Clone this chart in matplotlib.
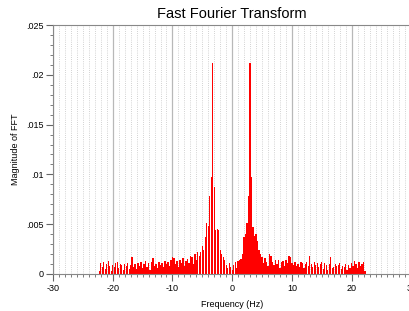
import numpy as np
import matplotlib
matplotlib.use("Agg")
import matplotlib.pyplot as plt
from matplotlib.ticker import MultipleLocator, FuncFormatter

plt.rcParams['font.family'] = ['Liberation Sans', 'DejaVu Sans']

title = "Fast Fourier Transform"
xlabel = "Frequency (Hz)"
ylabel = "Magnitude of FFT"

# frequency bins (Hz)
f_start = -22.5
df = 0.25

# magnitudes for negative frequencies (-22.5 ... -0.25)
mag_neg = [
    0.0000, 0.0003, 0.0011, 0.0007, 0.0012, 0.0005, 0.0010, 0.0013, 0.0008, 0.0003,
    0.0009, 0.0007, 0.0011, 0.0012, 0.0006, 0.0010, 0.0009, 0.0004, 0.0010, 0.0008,
    0.0011, 0.0005, 0.0009, 0.0017, 0.0007, 0.0010, 0.0005, 0.0011, 0.0008, 0.0012,
    0.0006, 0.0010, 0.0013, 0.0007, 0.0011, 0.0004, 0.0012, 0.0016, 0.0008, 0.0010,
    0.0006, 0.0012, 0.0009, 0.0011, 0.0007, 0.0013, 0.0010, 0.0012, 0.0008, 0.0014,
    0.0017, 0.0016, 0.0010, 0.0013, 0.0007, 0.0014, 0.0011, 0.0016, 0.0008, 0.0013,
    0.0015, 0.0011, 0.0018, 0.0017, 0.0010, 0.0020, 0.0014, 0.0022, 0.0018, 0.0022,
    0.0028, 0.0024, 0.0037, 0.0051, 0.0048, 0.0078, 0.0097, 0.0212, 0.0087, 0.0044,
    0.0045, 0.0044, 0.0024, 0.0020, 0.0017, 0.0014, 0.0009, 0.0006, 0.0011, 0.0007,
]
# magnitudes for non-negative frequencies (0 ... 22.25)
mag_pos = [
    0.0004, 0.0009, 0.0012, 0.0006, 0.0013, 0.0014, 0.0015, 0.0020, 0.0037, 0.0040,
    0.0051, 0.0078, 0.0212, 0.0097, 0.0047, 0.0038, 0.0040, 0.0033, 0.0024, 0.0020,
    0.0017, 0.0011, 0.0016, 0.0012, 0.0008, 0.0020, 0.0018, 0.0012, 0.0009, 0.0014,
    0.0010, 0.0014, 0.0006, 0.0012, 0.0013, 0.0008, 0.0014, 0.0011, 0.0018, 0.0017,
    0.0011, 0.0009, 0.0012, 0.0008, 0.0010, 0.0007, 0.0012, 0.0011, 0.0006, 0.0010,
    0.0012, 0.0008, 0.0018, 0.0010, 0.0007, 0.0012, 0.0009, 0.0011, 0.0007, 0.0010,
    0.0012, 0.0005, 0.0011, 0.0009, 0.0004, 0.0010, 0.0017, 0.0006, 0.0007, 0.0010,
    0.0008, 0.0009, 0.0011, 0.0005, 0.0008, 0.0007, 0.0010, 0.0004, 0.0009, 0.0006,
    0.0011, 0.0008, 0.0013, 0.0010, 0.0006, 0.0012, 0.0008, 0.0010, 0.0012, 0.0003,
]

mags = np.array(mag_neg + mag_pos)
freqs = f_start + df * np.arange(len(mags))

fig = plt.figure(figsize=(4.10, 3.11), dpi=100)
ax = fig.add_axes([0.1293, 0.119, 0.874, 0.8006])

# grid
ax.xaxis.set_major_locator(MultipleLocator(10))
ax.xaxis.set_minor_locator(MultipleLocator(1))
ax.yaxis.set_major_locator(MultipleLocator(0.005))
ax.yaxis.set_minor_locator(MultipleLocator(0.001))
ax.grid(which='major', axis='x', color='#b8b8b8', linewidth=0.9, linestyle='-')
ax.grid(which='minor', axis='x', color='#c4c4c4', linewidth=0.6, linestyle=(0, (1.0, 1.6)))
ax.set_axisbelow(True)

ax.bar(freqs, mags, width=0.22, color='#ff0000', linewidth=0)

ax.set_xlim(-30, 30)
ax.set_ylim(0, 0.025)

def yfmt(v, pos):
    if abs(v) < 1e-12:
        return "0"
    s = ("%.3f" % v).rstrip('0')
    return s.lstrip('0')

ax.yaxis.set_major_formatter(FuncFormatter(yfmt))
ax.xaxis.set_major_formatter(FuncFormatter(lambda v, p: "%d" % round(v)))

for sp in ['left', 'top', 'bottom']:
    ax.spines[sp].set_color('#888888')
    ax.spines[sp].set_linewidth(0.8)
ax.spines['right'].set_visible(False)

ax.tick_params(which='major', direction='out', length=5, width=0.8, color='#666666',
               labelsize=6.5, pad=2)
ax.tick_params(which='minor', direction='out', length=2.5, width=0.6, color='#666666')

ax.set_title(title, fontsize=10.5, pad=5)
ax.set_xlabel(xlabel, fontsize=6.5, labelpad=5)
ax.set_ylabel(ylabel, fontsize=6.5, labelpad=4)

fig.savefig("out.png", dpi=100)
